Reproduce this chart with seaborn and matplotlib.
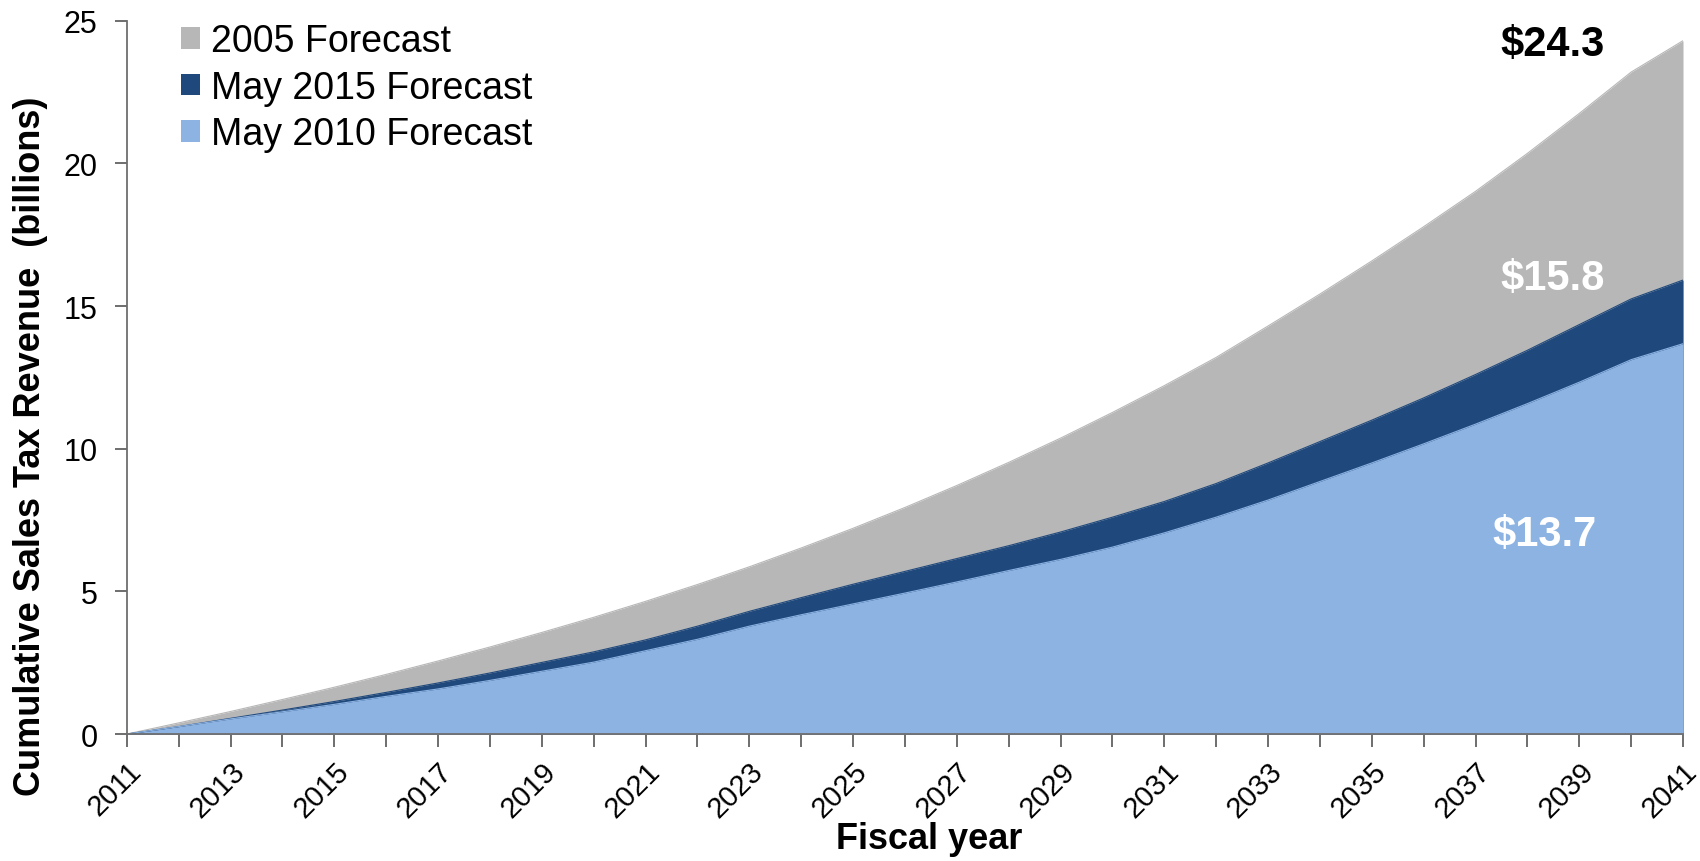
import numpy as np
import pandas as pd
import matplotlib
matplotlib.use("Agg")
import matplotlib.pyplot as plt
import seaborn as sns
from matplotlib.patches import Patch

years = list(range(2011, 2042))

# cumulative revenue, billions
fc_2005 = [0, 0.39, 0.79, 1.21, 1.64, 2.09, 2.56, 3.05, 3.56, 4.09,
           4.65, 5.24, 5.86, 6.52, 7.21, 7.94, 8.71, 9.52, 10.37, 11.27,
           12.21, 13.2, 14.3, 15.42, 16.58, 17.78, 19.02, 20.35, 21.75, 23.2,
           24.3]
fc_may2015 = [0, 0.26, 0.55, 0.84, 1.14, 1.46, 1.79, 2.14, 2.51, 2.88,
              3.30, 3.78, 4.30, 4.78, 5.25, 5.70, 6.15, 6.60, 7.08, 7.60,
              8.15, 8.78, 9.50, 10.25, 11.0, 11.78, 12.6, 13.45, 14.35, 15.25,
              15.91]
fc_may2010 = [0, 0.26, 0.53, 0.78, 1.04, 1.32, 1.58, 1.88, 2.2, 2.52,
              2.92, 3.32, 3.78, 4.18, 4.56, 4.94, 5.33, 5.73, 6.12, 6.55,
              7.05, 7.6, 8.2, 8.85, 9.5, 10.17, 10.86, 11.58, 12.33, 13.12,
              13.68]

series_names = ["2005 Forecast", "May 2015 Forecast", "May 2010 Forecast"]
series_colors = ["#b7b7b7", "#1f497d", "#8db3e2"]
end_labels = ["$24.3", "$15.8", "$13.7"]

df = pd.DataFrame({"year": years,
                   "2005 Forecast": fc_2005,
                   "May 2015 Forecast": fc_may2015,
                   "May 2010 Forecast": fc_may2010})
long_df = df.melt(id_vars="year", var_name="forecast", value_name="revenue")

sns.set_theme(style="white")
plt.rcParams["font.family"] = ["Liberation Sans", "DejaVu Sans"]
plt.rcParams["text.color"] = "black"
plt.rcParams["axes.labelcolor"] = "black"
plt.rcParams["xtick.color"] = "black"
plt.rcParams["ytick.color"] = "black"

fig = plt.figure(figsize=(17, 8.62), dpi=100)
ax = fig.add_axes([0.0746, 0.1473, 0.9154, 0.8275])

for name, col in zip(series_names, series_colors):
    ax.fill_between(df["year"], 0, df[name], color=col, linewidth=0, zorder=2)

sns.lineplot(data=long_df, x="year", y="revenue", hue="forecast",
             hue_order=series_names, palette=series_colors,
             linewidth=0.8, legend=False, ax=ax, zorder=3)

ax.set_xlim(2011, 2041)
ax.set_ylim(0, 25)
ax.set_xticks(range(2011, 2042))
ax.set_xticklabels([str(y) if (y - 2011) % 2 == 0 else "" for y in years],
                   rotation=45, ha="right", va="top", rotation_mode="anchor",
                   fontsize=21)
ax.set_yticks([0, 5, 10, 15, 20, 25])
ax.set_yticklabels(["0", "5", "10", "15", "20", "25"], fontsize=22)
ax.tick_params(axis="x", direction="out", length=9, width=1.2, color="#555555", pad=7)
ax.tick_params(axis="y", direction="out", length=9, width=1.2, color="#555555", pad=12)
ax.tick_params(bottom=True, left=True)

for s in ["top", "right"]:
    ax.spines[s].set_visible(False)
for s in ["left", "bottom"]:
    ax.spines[s].set_color("#6e6e6e")
    ax.spines[s].set_linewidth(1.3)
    ax.spines[s].set_zorder(5)

ax.set_xlabel("Fiscal year", fontsize=26, fontweight="bold", va="center")
ax.set_ylabel("Cumulative Sales Tax Revenue  (billions)", fontsize=26,
              fontweight="bold", va="center")
ax.xaxis.set_label_coords(0.5155, -0.146)
ax.yaxis.set_label_coords(-0.062, 0.405)

# end value annotations
ax.text(2038.48, 24.2, end_labels[0], fontsize=30, fontweight="bold",
        color="black", ha="center", va="center", zorder=6)
ax.text(2038.48, 16.0, end_labels[1], fontsize=30, fontweight="bold",
        color="white", ha="center", va="center", zorder=6)
ax.text(2038.33, 7.0, end_labels[2], fontsize=30, fontweight="bold",
        color="white", ha="center", va="center", zorder=6)

handles = [Patch(facecolor=c, edgecolor="none") for c in series_colors]
leg = ax.legend(handles, series_names, loc="upper left", bbox_to_anchor=(0.03, 1.007),
                frameon=False, fontsize=27, handlelength=0.5, handleheight=0.5,
                handletextpad=0.3, labelspacing=0.28, borderaxespad=0, borderpad=0.2)

fig.savefig("out.png", dpi=100)
